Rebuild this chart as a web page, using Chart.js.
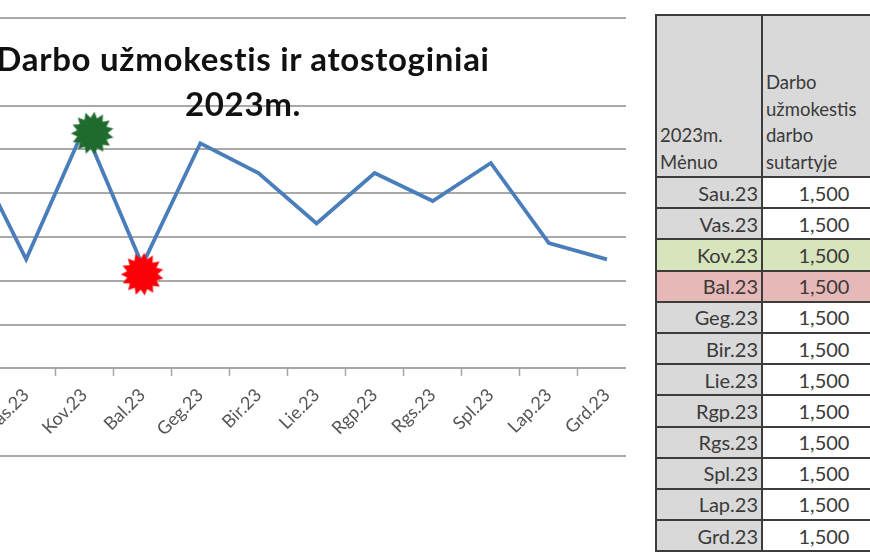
<!DOCTYPE html>
<html lang="lt">
<head>
<meta charset="utf-8">
<script src="https://cdn.jsdelivr.net/npm/chart.js@4"></script>
<style>
html,body{margin:0;padding:0;width:870px;height:560px;overflow:hidden;background:#fff;font-family:Lato,"Open Sans",sans-serif}
#clip{position:absolute;left:0;top:0;width:626px;height:480px;overflow:hidden}
#chart{position:absolute;left:-86px;top:-7px}
.title{position:absolute;left:-6px;width:498px;text-align:center;font-weight:700;font-size:33px;letter-spacing:.7px;color:#111;white-space:nowrap;line-height:34px}
table{position:absolute;left:655px;top:14px;border-collapse:collapse;table-layout:fixed;width:232px;color:#3a3a3a}
td{border:2px solid #3c3c3c;padding:0;box-sizing:border-box;height:31.2px;font-size:20px;line-height:20px;white-space:nowrap}
td.m{width:106px;background:#d9d9d9;text-align:right;padding-right:3px}
td.v{text-align:center;padding-right:0;background:#fff}
tr.head td{height:162px;vertical-align:bottom;text-align:left;font-size:18.5px;line-height:26.4px;padding:0 0 1px 3px;background:#d9d9d9}
tr.green td{background:#d8e4bc}
tr.red td{background:#e6b8b7}
</style>
</head>
<body>
<div id="clip"><canvas id="chart" width="747" height="488"></canvas></div>
<div class="title" style="top:41px">Darbo užmokestis ir atostoginiai</div>
<div class="title" style="top:86px">2023m.</div>
<table id="tbl"></table>
<script>
const categories = ["Sau.23","Vas.23","Kov.23","Bal.23","Geg.23","Bir.23","Lie.23","Rgp.23","Rgs.23","Spl.23","Lap.23","Grd.23"];
const lineValues = [516,249,549,236,514,446,331,446,382,469,286,249];
const contractPay = [1500,1500,1500,1500,1500,1500,1500,1500,1500,1500,1500,1500];
const greenMarker = [{x:2.14,y:537}];
const redMarker = [{x:3,y:215}];
const hiddenGridValues = [700,-100];
const headMonth = ["2023m.","Mėnuo"];
const headPay = ["Darbo","užmokestis","darbo","sutartyje"];
const rowClass = {"Kov.23":"green","Bal.23":"red"};

function burst(color){
  const s=48,c=document.createElement('canvas');c.width=s;c.height=s;
  const g=c.getContext('2d'),n=15;
  g.fillStyle=color;g.beginPath();
  for(let i=0;i<n*2;i++){
    const r=i%2?15.5:21.5,a=i*Math.PI/n+0.2;
    g[i?'lineTo':'moveTo'](s/2+r*Math.cos(a),s/2+r*Math.sin(a));
  }
  g.closePath();g.fill();return c;
}

new Chart(document.getElementById('chart'),{
  data:{labels:categories,datasets:[
    {type:'line',data:lineValues,borderColor:'#4a7ebb',borderWidth:3.8,pointRadius:0,tension:0,fill:false,order:2,borderJoinStyle:'miter'},
    {type:'scatter',xAxisID:'xs',data:greenMarker,pointStyle:burst('#1f6b2d'),pointRadius:24,order:1},
    {type:'scatter',xAxisID:'xs',data:redMarker,pointStyle:burst('#fb0007'),pointRadius:24,order:1}
  ]},
  options:{
    responsive:false,animation:false,
    layout:{padding:{left:0,right:0,top:11,bottom:22}},
    plugins:{legend:{display:false},tooltip:{enabled:false},title:{display:false}},
    scales:{
      x:{type:'category',position:{y:0},offset:true,
        grid:{offset:true,drawOnChartArea:false,drawTicks:true,tickLength:7,tickColor:'#a6a6a6',tickWidth:1.5},
        border:{color:'#a6a6a6',width:2},
        ticks:{autoSkip:false,minRotation:45,maxRotation:45,padding:9,color:'#555',font:{family:'Lato',size:18}}},
      xs:{type:'linear',display:false,min:-0.5,max:11.5},
      y:{type:'linear',min:-200,max:800,
        ticks:{stepSize:100,display:false},
        border:{display:false},
        grid:{drawTicks:false,lineWidth:2,color:c=>hiddenGridValues.includes(c.tick.value)?'rgba(0,0,0,0)':'#a9a9a9'}}
    }
  }
});

const tbl=document.getElementById('tbl');
let h='<tr class="head"><td class="m">'+headMonth.join('<br>')+'</td><td class="v">'+headPay.join('<br>')+'</td></tr>';
categories.forEach((c,i)=>{
  h+='<tr class="'+(rowClass[c]||'')+'"><td class="m">'+c+'</td><td class="v">'+contractPay[i].toLocaleString('en-US')+'</td></tr>';
});
tbl.innerHTML=h;
</script>
</body>
</html>
